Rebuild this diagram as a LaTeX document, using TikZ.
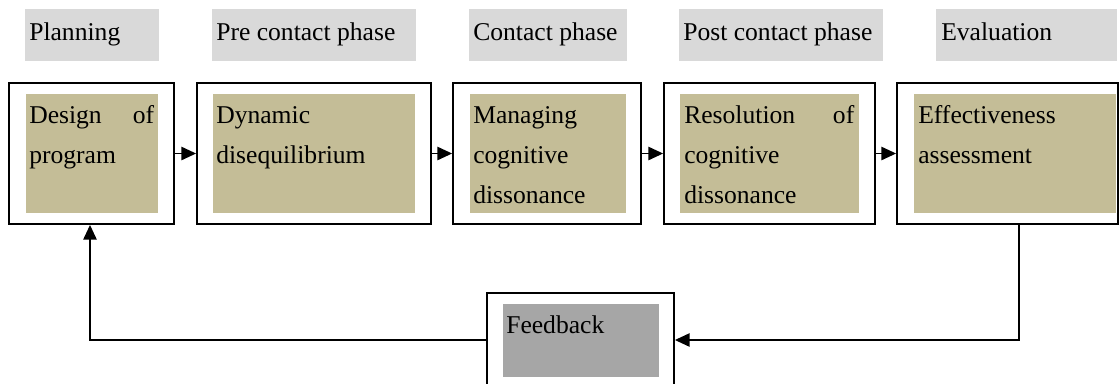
\documentclass[tikz,border=0pt]{standalone}
\usepackage{fontspec}
\setmainfont{Liberation Serif}
\usetikzlibrary{fit,arrows.meta}
\definecolor{hdrc}{HTML}{D9D9D9}
\definecolor{tanc}{HTML}{C4BD97}
\definecolor{fbc}{HTML}{A6A6A6}
\begin{document}
\begin{tikzpicture}[x=0.75pt,y=-0.75pt,
  hdr/.style={fill=hdrc, draw=none, inner sep=0pt},
  outer/.style={draw=black, line width=1.4pt, inner sep=0pt},
  tanbox/.style={fill=tanc, draw=none, inner sep=0pt},
  fbbox/.style={fill=fbc, draw=none, inner sep=0pt},
  txt/.style={inner sep=0pt, anchor=base west, font=\fontsize{19.2}{30}\selectfont},
  arr/.style={line width=1.1pt, -{Triangle[length=11pt,width=10pt]}},
]
\clip (0,0) rectangle (1119,383);
% header boxes
\node[hdr, fit={(25,9) (159,61)}] (h1) {};
\node[txt] (h1t) at (29,40) {Planning};
\node[hdr, fit={(212,9) (416,61)}] (h2) {};
\node[txt] (h2t) at (216,40) {Pre contact phase};
\node[hdr, fit={(469,9) (627,61)}] (h3) {};
\node[txt] (h3t) at (473,40) {Contact phase};
\node[hdr, fit={(679,9) (883,61)}] (h4) {};
\node[txt] (h4t) at (683,40) {Post contact phase};
\node[hdr, fit={(936,9) (1117,61)}] (h5) {};
\node[txt] (h5t) at (941,40) {Evaluation};
% main boxes
\node[outer, fit={(9,83) (174,224)}] (b1) {};
\node[tanbox, fit={(26,94) (158,213)}] (t1) {};
\node[txt] (x1) at (29,123) {\parbox[t]{93.75pt}{\makebox[\linewidth][s]{Design of}\\program}};
\node[outer, fit={(197,83) (431,224)}] (b2) {};
\node[tanbox, fit={(213,94) (415,213)}] (t2) {};
\node[txt] (x2) at (216,123) {\parbox[t]{140pt}{Dynamic\\disequilibrium}};
\node[outer, fit={(453,83) (641,224)}] (b3) {};
\node[tanbox, fit={(470,94) (626,213)}] (t3) {};
\node[txt] (x3) at (473,123) {\parbox[t]{110pt}{Managing\\cognitive\\dissonance}};
\node[outer, fit={(664,83) (875,224)}] (b4) {};
\node[tanbox, fit={(680,94) (859,213)}] (t4) {};
\node[txt] (x4) at (684,123) {\parbox[t]{127.5pt}{\makebox[\linewidth][s]{Resolution of}\\cognitive\\dissonance}};
\node[outer, fit={(897,83) (1118.3,224)}] (b5) {};
\node[tanbox, fit={(914,94) (1116,213)}] (t5) {};
\node[txt] (x5) at (918,123) {\parbox[t]{140pt}{Effectiveness\\assessment}};
% feedback
\node[outer, fit={(487,293) (674,400)}] (fb) {};
\node[fbbox, fit={(503,304) (659,377)}] (ft) {};
\node[txt] (fx) at (506,333) {Feedback};
% connectors
\draw[arr] (b1.east) -- (b2.west);
\draw[arr] (b2.east) -- (b3.west);
\draw[arr] (b3.east) -- (b4.west);
\draw[arr] (b4.east) -- (b5.west);
\coordinate (c1) at (1019,340);
\coordinate (c2) at (90,340);
\draw[arr] (b5.south -| c1) -- (c1) -- (fb.east |- c1);
\draw[arr] (fb.west |- c2) -- (c2) -- (b1.south -| c2);
\end{tikzpicture}
\end{document}
